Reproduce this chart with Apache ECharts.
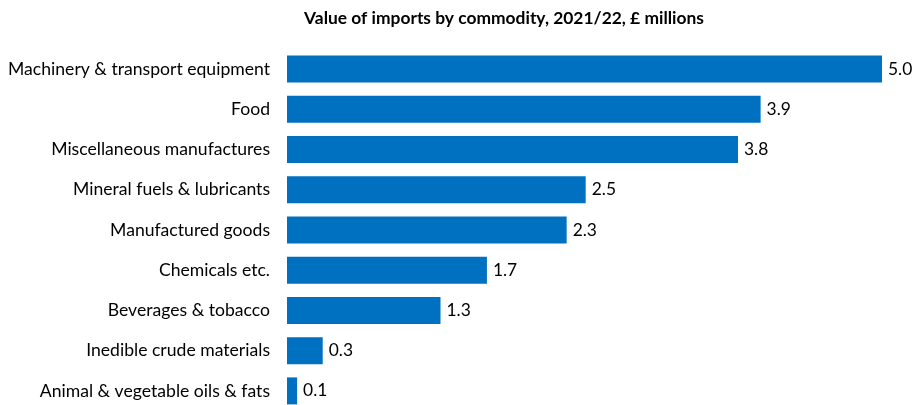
<!DOCTYPE html>
<html>
<head>
<meta charset="utf-8">
<script src="https://cdn.jsdelivr.net/npm/echarts@6/dist/echarts.min.js"></script>
<style>
  html, body { margin: 0; padding: 0; background: #fff; }
  #chart { width: 916px; height: 405px; }
</style>
</head>
<body>
<div id="chart"></div>
<script>
// commodities, top to bottom
var categories = [
  'Machinery & transport equipment',
  'Food',
  'Miscellaneous manufactures',
  'Mineral fuels & lubricants',
  'Manufactured goods',
  'Chemicals etc.',
  'Beverages & tobacco',
  'Inedible crude materials',
  'Animal & vegetable oils & fats'
]
// bar lengths
var values = [5.0, 3.98, 3.79, 2.51, 2.35, 1.68, 1.29, 0.3, 0.085]
// printed data labels
var valueLabels = ['5.0', '3.9', '3.8', '2.5', '2.3', '1.7', '1.3', '0.3', '0.1']

var myChart = echarts.init(document.getElementById('chart'))
var font = 'Lato, sans-serif'

var option = {
  animation: false,
  title: {
    text: 'Value of imports by commodity, 2021/22, £ millions',
    left: 499,
    textAlign: 'center',
    top: 5,
    textStyle: { fontFamily: font, fontSize: 17.4, fontWeight: 'bold', color: '#000' }
  },
  grid: { left: 287, right: 34, top: 49, bottom: -6, outerBoundsMode: 'none' },
  xAxis: {
    type: 'value',
    min: 0,
    max: 5,
    show: false
  },
  yAxis: {
    type: 'category',
    inverse: true,
    data: categories,
    axisLine: { show: false },
    axisTick: { show: false },
    axisLabel: { margin: 17, fontFamily: font, fontSize: 17.6, color: '#000' }
  },
  series: [
    {
      type: 'bar',
      data: values,
      barWidth: 27,
      itemStyle: { color: '#0070C0' },
      label: {
        show: true,
        position: 'right',
        distance: 6,
        fontFamily: font,
        fontSize: 17.4,
        color: '#000',
        formatter: function (p) { return valueLabels[p.dataIndex] }
      }
    }
  ]
}
option && myChart.setOption(option)
</script>
</body>
</html>
